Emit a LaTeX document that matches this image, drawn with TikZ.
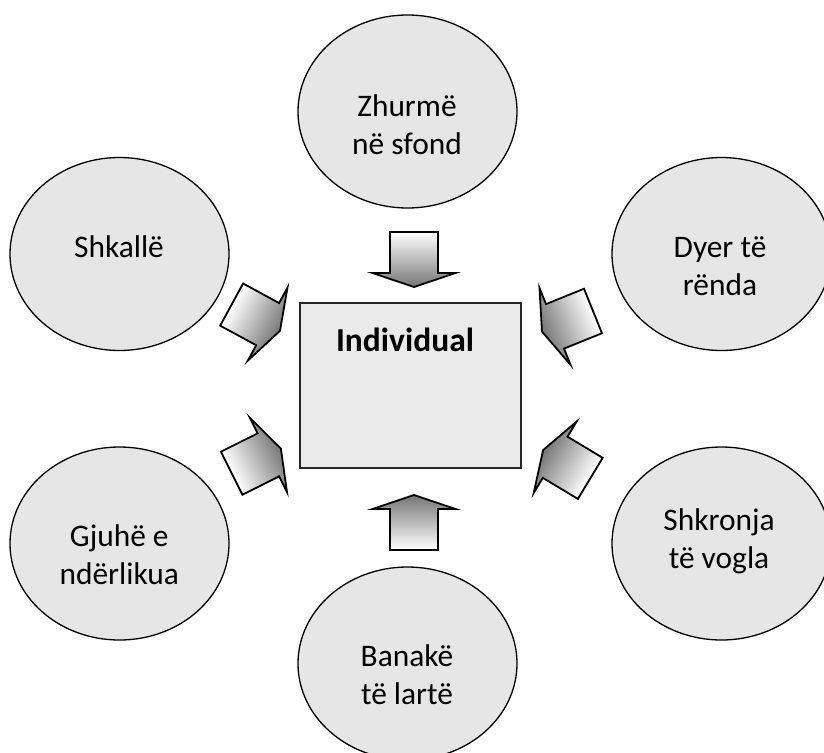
\documentclass[tikz,border=0pt]{standalone}
\usepackage{fontspec}
\setmainfont{Carlito}
\usetikzlibrary{shapes.geometric}
\definecolor{ellfill}{HTML}{E6E6E6}
\definecolor{boxfill}{HTML}{EAEAEA}
\definecolor{arrdark}{HTML}{767676}
\begin{document}
\begin{tikzpicture}[x=1pt,y=-1pt,
  ell/.style={ellipse, draw=black, line width=1.3pt, fill=ellfill,
    minimum width=219pt, minimum height=193pt, inner sep=0pt},
  lbl/.style={align=center, font=\fontsize{31.4}{38.3}\selectfont, inner sep=0pt},
  centerbox/.style={draw=black!85, line width=1.8pt, fill=boxfill,
    minimum width=221pt, minimum height=165pt, inner sep=0pt},
  blockarrow/.pic={
    \path[draw=black, line width=1.8pt, line join=miter,
      left color=white, right color=arrdark]
      (-27.5,-24) -- (13.5,-24) -- (13.5,-41.5) -- (27.5,0)
      -- (13.5,41.5) -- (13.5,24) -- (-27.5,24) -- cycle;
  }]
\useasboundingbox (0,0) rectangle (824,752);

% ellipses
\node[ell] (e1) at (407.5,111.5) {};
\node[ell] (e2) at (119.5,254) {};
\node[ell] (e3) at (721.5,254) {};
\node[ell] (e4) at (119.5,543.5) {};
\node[ell] (e5) at (721.5,543.5) {};
\node[ell] (e6) at (407.5,663.5) {};

% labels
\node[lbl] (t1) at (407,124.5) {Zhurmë\\në sfond};
\node[lbl] (t2) at (119,247) {Shkallë};
\node[lbl] (t3) at (720,266) {Dyer të\\rënda};
\node[lbl] (t4) at (119.3,555) {Gjuhë e\\ndërlikua};
\node[lbl] (t5) at (719,541.5) {Shkronja\\të vogla};
\node[lbl] (t6) at (407,675) {Banakë\\të lartë};

% central box
\node[centerbox] (ind) at (410.5,385.5) {};
\node[lbl, font=\fontsize{33.5}{40}\selectfont\bfseries] (indt) at (405,340) {Individual};

% block arrows (canvas rotated so the shading follows the arrow)
\begin{scope}[transform canvas={shift={(414,259.5)}, rotate=-90}]
  \pic {blockarrow};
\end{scope}
\begin{scope}[transform canvas={shift={(414,522.5)}, rotate=90}]
  \pic {blockarrow};
\end{scope}
\begin{scope}[transform canvas={shift={(255.8,317.7)}, rotate=-28.5}]
  \pic {blockarrow};
\end{scope}
\begin{scope}[transform canvas={shift={(567.5,321.3)}, rotate=-158}]
  \pic {blockarrow};
\end{scope}
\begin{scope}[transform canvas={shift={(256.3,460.9)}, rotate=26.6}]
  \pic {blockarrow};
\end{scope}
\begin{scope}[transform canvas={shift={(566.7,464.2)}, rotate=149}]
  \pic {blockarrow};
\end{scope}
\end{tikzpicture}
\end{document}
